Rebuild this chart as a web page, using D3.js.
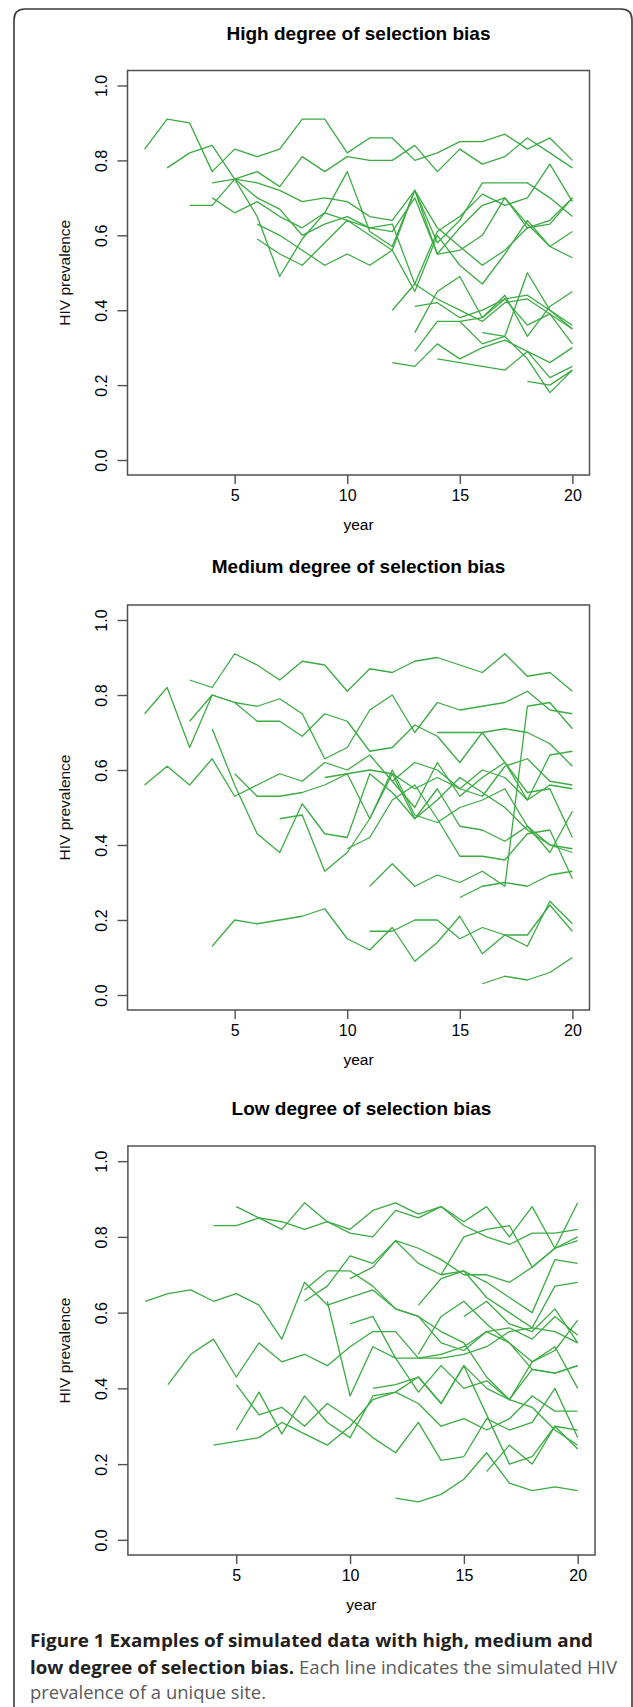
<!DOCTYPE html>
<html>
<meta charset="utf-8" />
<script src="https://d3js.org/d3.v7.min.js"></script>
<style>
  body { margin: 0; background: #fff; }
  svg text { font-family: "Liberation Sans", Arial, sans-serif; }
</style>
<body>
<svg id="fig" width="633" height="1707"></svg>
<script>
// axis ticks and titles
const xTicks = [5, 10, 15, 20]
const yTicks = [0, 0.2, 0.4, 0.6, 0.8, 1.0]
const titles = ["High degree of selection bias", "Medium degree of selection bias", "Low degree of selection bias"]

// one array per site; every site runs until year 20, so the first year = 21 - length
const highSites = [
  [.83,.91,.90,.77,.83,.81,.83,.91,.91,.82,.86,.86,.80,.82,.85,.85,.87,.83,.86,.80],
  [.78,.82,.84,.75,.65,.49,.59,.66,.77,.61,.57,.72,.55,.62,.68,.70,.62,.63,.70],
  [.68,.68,.75,.77,.73,.81,.77,.81,.80,.80,.84,.77,.83,.79,.81,.86,.82,.78],
  [.74,.75,.74,.72,.69,.70,.69,.65,.64,.72,.58,.64,.74,.74,.74,.70,.65],
  [.70,.66,.69,.65,.62,.66,.64,.62,.63,.47,.61,.65,.71,.68,.70,.79,.69],
  [.75,.70,.67,.60,.63,.65,.62,.61,.70,.55,.56,.60,.70,.63,.57,.61],
  [.63,.60,.56,.52,.55,.52,.56,.72,.62,.57,.52,.56,.62,.64,.70],
  [.59,.55,.52,.58,.64,.60,.56,.45,.60,.52,.47,.55,.64,.57,.54],
  [.40,.47,.43,.40,.37,.42,.43,.39,.35],
  [.26,.25,.31,.27,.30,.32,.29,.26,.30],
  [.41,.42,.38,.40,.43,.44,.40,.36],
  [.34,.45,.49,.38,.44,.33,.41,.45],
  [.29,.37,.37,.38,.43,.36,.39,.31],
  [.27,.26,.25,.24,.29,.22,.25],
  [.37,.31,.33,.50,.40,.35],
  [.34,.33,.27,.18,.24],
  [.21,.20,.24]
]

const mediumSites = [
  [.75,.82,.66,.80,.78,.77,.79,.75,.63,.66,.76,.80,.70,.78,.76,.77,.78,.81,.76,.75],
  [.56,.61,.56,.63,.53,.56,.59,.57,.62,.60,.64,.57,.62,.60,.55,.60,.58,.52,.56,.55],
  [.84,.82,.91,.88,.84,.89,.88,.81,.87,.86,.89,.90,.88,.86,.91,.85,.86,.81],
  [.73,.80,.78,.73,.73,.69,.75,.73,.65,.66,.72,.69,.62,.70,.71,.70,.67,.61],
  [.71,.56,.43,.38,.51,.43,.42,.59,.54,.47,.52,.58,.54,.50,.44,.40,.39],
  [.13,.20,.19,.20,.21,.23,.15,.12,.18,.09,.14,.21,.11,.16,.13,.25,.19],
  [.59,.53,.53,.54,.56,.59,.60,.59,.55,.58,.55,.53,.61,.63,.57,.56],
  [.47,.48,.33,.38,.47,.60,.48,.46,.50,.52,.55,.45,.40,.38],
  [.58,.59,.47,.59,.47,.55,.45,.44,.41,.45,.38,.49],
  [.39,.42,.52,.56,.47,.37,.37,.36,.43,.44,.31],
  [.29,.35,.29,.32,.30,.33,.29,.77,.78,.71],
  [.17,.17,.20,.20,.15,.18,.16,.16,.24,.17],
  [.57,.50,.62,.53,.58,.62,.52,.64,.65],
  [.70,.70,.70,.62,.54,.55,.42],
  [.26,.29,.30,.29,.32,.33],
  [.03,.05,.04,.06,.10]
]

const lowSites = [
  [.63,.65,.66,.63,.65,.62,.53,.68,.62,.64,.66,.61,.59,.52,.50,.55,.52,.45,.44,.46],
  [.41,.49,.53,.43,.52,.47,.49,.46,.51,.55,.55,.48,.48,.49,.51,.55,.56,.55,.52],
  [.25,.26,.27,.31,.28,.25,.30,.37,.39,.36,.30,.32,.29,.32,.38,.34,.34],
  [.83,.83,.85,.84,.82,.84,.81,.80,.87,.85,.88,.83,.80,.78,.81,.81,.82],
  [.41,.33,.35,.30,.36,.32,.27,.23,.31,.21,.22,.32,.29,.31,.40,.27],
  [.29,.39,.28,.38,.31,.27,.38,.39,.43,.36,.46,.33,.20,.22,.30,.24],
  [.88,.85,.82,.89,.84,.82,.87,.89,.86,.88,.84,.88,.80,.88,.77,.89],
  [.66,.71,.71,.67,.61,.59,.55,.52,.43,.37,.35,.29,.25],
  [.63,.67,.75,.73,.79,.73,.70,.71,.64,.60,.56,.67,.68],
  [.63,.38,.51,.48,.48,.49,.51,.55,.56,.53,.59,.54],
  [.69,.72,.79,.77,.74,.70,.70,.68,.72,.77,.80],
  [.57,.59,.48,.39,.46,.40,.42,.37,.47,.51,.40],
  [.40,.41,.43,.36,.46,.40,.37,.45,.44,.46],
  [.11,.10,.12,.16,.23,.15,.13,.14,.13],
  [.62,.69,.71,.68,.64,.60,.74,.73],
  [.49,.59,.63,.57,.52,.47,.50,.58],
  [.70,.80,.82,.83,.72,.77,.79],
  [.59,.63,.57,.55,.61,.52],
  [.18,.25,.20,.30,.29]
]

var svg = d3.select("#fig")

// card outline (rounded top, open at the bottom)
svg.append("path")
  .attr("d", "M14,1707 L14,20 Q14,9 25,9 L621,9 Q632,9 632,20 L632,1707")
  .attr("fill", "none")
  .attr("stroke", "#3a3a3a")
  .attr("stroke-width", 1.6)

// frame boxes of the three panels
var panels = [
  { sites: highSites, left: 127.5, right: 589.5, top: 70.5, bottom: 475, titleY: 40 },
  { sites: mediumSites, left: 127.5, right: 589.5, top: 605, bottom: 1010, titleY: 573 },
  { sites: lowSites, left: 127.9, right: 595, top: 1146, bottom: 1555, titleY: 1115 }
]

panels.forEach(function(p, k) {
  // R style: 4% padding on each side of the data range
  var x = d3.scaleLinear().domain([0.24, 20.76]).range([p.left, p.right])
  var y = d3.scaleLinear().domain([-0.04, 1.04]).range([p.bottom, p.top])
  var g = svg.append("g")
  var cx = (p.left + p.right) / 2

  g.append("text")
    .attr("x", cx).attr("y", p.titleY)
    .attr("text-anchor", "middle")
    .attr("font-weight", "bold")
    .attr("font-size", 19)
    .attr("fill", "#000")
    .text(titles[k])

  // site lines
  var line = d3.line().x(d => x(d[0])).y(d => y(d[1]))
  g.append("g")
    .selectAll("path")
    .data(p.sites)
    .enter()
    .append("path")
    .attr("d", s => line(s.map((v, i) => [21 - s.length + i, v])))
    .attr("fill", "none")
    .attr("stroke", "#3bab42")
    .attr("stroke-width", 1.3)
    .attr("stroke-linejoin", "round")

  // box
  g.append("rect")
    .attr("x", p.left).attr("y", p.top)
    .attr("width", p.right - p.left).attr("height", p.bottom - p.top)
    .attr("fill", "none")
    .attr("stroke", "#505050")
    .attr("stroke-width", 1.5)

  // x axis
  var xAxis = g.append("g")
    .attr("transform", "translate(0," + p.bottom + ")")
    .call(d3.axisBottom(x).tickValues(xTicks).tickSize(9).tickPadding(6).tickFormat(d3.format("d")))
  xAxis.select(".domain").remove()
  xAxis.selectAll("line").attr("stroke", "#505050").attr("stroke-width", 1.4)
  xAxis.selectAll("text")
    .attr("font-size", 16)
    .attr("font-family", "Liberation Sans, Arial, sans-serif")
    .attr("fill", "#000")

  // y axis, labels turned like R's default las = 0
  var yAxis = g.append("g")
    .attr("transform", "translate(" + p.left + ",0)")
    .call(d3.axisLeft(y).tickValues(yTicks).tickSize(10).tickFormat(d3.format(".1f")))
  yAxis.select(".domain").remove()
  yAxis.selectAll("line").attr("stroke", "#505050").attr("stroke-width", 1.4)
  yAxis.selectAll("text")
    .attr("x", 0).attr("dy", null)
    .attr("transform", d => "translate(" + (101 - p.left) + ",0) rotate(-90)")
    .attr("text-anchor", "middle")
    .attr("dominant-baseline", "central")
    .attr("font-size", 16)
    .attr("font-family", "Liberation Sans, Arial, sans-serif")
    .attr("fill", "#000")

  g.append("text")
    .attr("x", cx).attr("y", p.bottom + 55)
    .attr("text-anchor", "middle")
    .attr("font-size", 15.5)
    .attr("fill", "#000")
    .text("year")

  var my = (p.top + p.bottom) / 2
  g.append("text")
    .attr("transform", "translate(64," + my + ") rotate(-90)")
    .attr("text-anchor", "middle")
    .attr("dominant-baseline", "central")
    .attr("font-size", 15.5)
    .attr("fill", "#111")
    .text("HIV prevalence")
})

// caption
var cap = svg.append("g")
function capText(x, yb, str, bold, len) {
  cap.append("text")
    .attr("x", x).attr("y", yb)
    .attr("font-size", 18.5)
    .attr("font-weight", bold ? "bold" : "normal")
    .attr("fill", bold ? "#231f20" : "#5a5a5a")
    .attr("textLength", len)
    .attr("lengthAdjust", "spacingAndGlyphs")
    .style("font-family", "'Open Sans', 'Noto Sans', sans-serif")
    .text(str)
}
capText(30, 1647, "Figure 1 Examples of simulated data with high, medium and", true, 563)
capText(30, 1673.5, "low degree of selection bias.", true, 264)
capText(299, 1673.5, "Each line indicates the simulated HIV", false, 318)
capText(30, 1699, "prevalence of a unique site.", false, 236)
</script>
</body>
</html>
